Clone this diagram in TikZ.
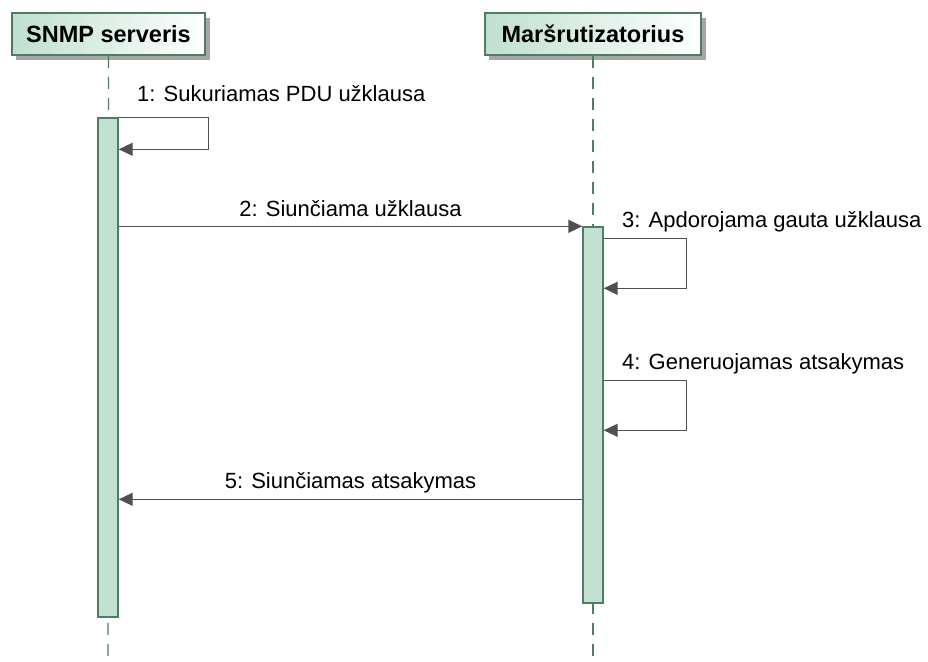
\documentclass[tikz,border=0pt]{standalone}
\usepackage{fontspec}
\setmainfont{Liberation Sans}
\usetikzlibrary{arrows.meta,calc}

\definecolor{lifegreen}{HTML}{4E7D62}
\definecolor{barfill}{HTML}{C2E1D1}
\definecolor{headfill}{HTML}{BFE0CF}
\definecolor{msgline}{HTML}{505050}

\tikzset{
  header/.style={draw=lifegreen, line width=1.6pt, left color=headfill, right color=white,
    minimum height=42pt, inner sep=0pt, font=\fontsize{23.5}{27}\selectfont\bfseries, text=black},
  shadowbox/.style={fill=black!35, draw=none},
  lifeline/.style={draw=lifegreen, line width=1.4pt, dash pattern=on 12pt off 9pt},
  actbar/.style={draw=lifegreen, line width=1.4pt, fill=barfill, minimum width=20pt, inner sep=0pt},
  msg/.style={draw=msgline, line width=1.4pt, -{Triangle[length=14pt,width=13pt]}},
  msglabel/.style={font=\fontsize{22}{26}\selectfont, text=black, inner sep=0pt}
}

\begin{document}
\begin{tikzpicture}[x=1pt,y=-1pt]
\useasboundingbox (0,0) rectangle (928,661);

% participant header shadows
\fill[shadowbox] (16,18) rectangle (210,60);
\fill[shadowbox] (489,18) rectangle (706,60);

% participant headers
\node[header, minimum width=193pt] (snmp) at (108.5,34) {SNMP serveris};
\node[header, minimum width=216pt] (router) at (593,34) {Maršrutizatorius};

% lifelines
\coordinate (snmpend) at (108,661);
\coordinate (routerend) at (593,661);
\draw[lifeline] (snmp.south) -- (snmpend);
\draw[lifeline] (router.south) -- (routerend);

% activation bars
\node[actbar, minimum height=499pt] (barA) at (108,367.5) {};
\node[actbar, minimum height=376pt] (barB) at (593,415) {};

% 1: self message on the server
\coordinate (m1a) at ($(barA.north east)+(0,0)$);
\coordinate (m1b) at ($(barA.north east)+(0,32)$);
\draw[msg] (m1a) -- ++(90,0) |- (m1b);
\node[msglabel, anchor=base west] (l1) at (137,101) {1: Sukuriamas PDU užklausa};

% 2: request sent to the router
\coordinate (m2a) at (barA.east |- barB.north);
\draw[msg] (m2a) -- (barB.north west);
\node[msglabel, anchor=base] (l2) at (350.5,216) {2: Siunčiama užklausa};

% 3: router processes the request
\coordinate (m3a) at ($(barB.north east)+(0,12)$);
\coordinate (m3b) at ($(barB.north east)+(0,62)$);
\draw[msg] (m3a) -- ++(83,0) |- (m3b);
\node[msglabel, anchor=base west] (l3) at (622,227) {3: Apdorojama gauta užklausa};

% 4: router generates the response
\coordinate (m4a) at ($(barB.north east)+(0,154)$);
\coordinate (m4b) at ($(barB.north east)+(0,204)$);
\draw[msg] (m4a) -- ++(83,0) |- (m4b);
\node[msglabel, anchor=base west] (l4) at (622,369) {4: Generuojamas atsakymas};

% 5: response sent back
\coordinate (m5a) at ($(barB.north west)+(0,273)$);
\draw[msg] (m5a) -- (m5a -| barA.east);
\node[msglabel, anchor=base] (l5) at (350.5,488) {5: Siunčiamas atsakymas};
\end{tikzpicture}
\end{document}
